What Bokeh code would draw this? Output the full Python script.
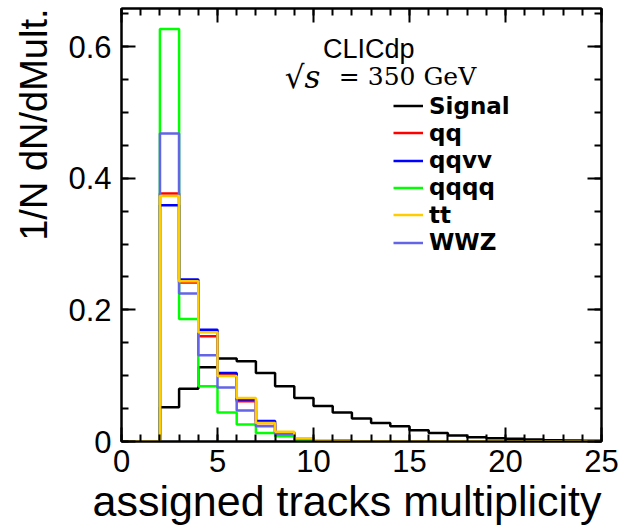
from bokeh.plotting import figure
from bokeh.models import (Range1d, SingleIntervalTicker, LinearAxis, Label, Legend,
                          LegendItem, CustomJSTickFormatter, Title)
from bokeh.embed import file_html
from bokeh.resources import INLINE

# ---- data (normalised histograms, 25 bins of width 1 from 0 to 25) ----
bin_edges = list(range(0, 26))
signal = [0, 0, 0.052, 0.080, 0.113, 0.126, 0.122, 0.104, 0.084, 0.066, 0.054, 0.044,
          0.035, 0.028, 0.023, 0.017, 0.013, 0.009, 0.0065, 0.005, 0.004, 0.003, 0.002,
          0.0015, 0.001]
qq = [0, 0, 0.377, 0.2415, 0.160, 0.1015, 0.061, 0.028, 0.014, 0.005, 0.002, 0.001,
      0, 0, 0, 0, 0, 0, 0, 0, 0, 0, 0, 0, 0]
qqvv = [0, 0, 0.359, 0.246, 0.170, 0.104, 0.064, 0.031, 0.013, 0.005, 0.002, 0.001,
        0, 0, 0, 0, 0, 0, 0, 0, 0, 0, 0, 0, 0]
qqqq = [0, 0, 0.627, 0.186, 0.084, 0.044, 0.026, 0.013, 0.008, 0.003, 0.001, 0,
        0, 0, 0, 0, 0, 0, 0, 0, 0, 0, 0, 0, 0]
tt = [0, 0, 0.373, 0.2435, 0.166, 0.0995, 0.066, 0.028, 0.015, 0.005, 0.002, 0.001,
      0, 0, 0, 0, 0, 0, 0, 0, 0, 0, 0, 0, 0]
wwz = [0, 0, 0.468, 0.225, 0.131, 0.082, 0.047, 0.023, 0.011, 0.005, 0.002, 0.001,
       0, 0, 0, 0, 0, 0, 0, 0, 0, 0, 0, 0, 0]

series_names = ["Signal", "qq", "qqvv", "qqqq", "tt", "WWZ"]
series_values = [signal, qq, qqvv, qqqq, tt, wwz]
series_colors = ["#000000", "#ff0000", "#0000ff", "#00ff00", "#ffcc00", "#6464e6"]
draw_order = [0, 1, 2, 3, 5, 4]

x_label = "assigned tracks multiplicity"
y_label = "1/N dN/dMult."

FONT = "Liberation Sans"

p = figure(width=623, height=528, output_backend="svg", toolbar_location=None,
           x_range=Range1d(0, 25), y_range=Range1d(0, 0.658),
           min_border_left=120, min_border_right=22, min_border_top=8,
           min_border_bottom=87, background_fill_color="white",
           border_fill_color="white")
p.grid.visible = False
p.outline_line_color = "black"
p.outline_line_width = 2

xt = SingleIntervalTicker(interval=5, num_minor_ticks=5)
yt = SingleIntervalTicker(interval=0.2, num_minor_ticks=4)
p.xaxis.ticker = xt
p.yaxis.ticker = yt
for ax in (p.xaxis[0], p.yaxis[0]):
    ax.axis_line_width = 2
    ax.major_tick_in = 14
    ax.major_tick_out = 0
    ax.minor_tick_in = 7
    ax.minor_tick_out = 0
    ax.major_tick_line_width = 2
    ax.minor_tick_line_width = 2
    ax.major_label_text_font = FONT
    ax.major_label_text_font_size = "31px"
    ax.major_label_text_color = "black"
p.xaxis.major_label_standoff = 8
p.yaxis.major_label_standoff = 10

blank = CustomJSTickFormatter(code="return ''")
for side in ("above", "right"):
    ax = LinearAxis(ticker=SingleIntervalTicker(interval=5 if side == "above" else 0.2,
                                                num_minor_ticks=5 if side == "above" else 4),
                    formatter=blank, axis_line_width=2, major_tick_in=14, major_tick_out=0,
                    minor_tick_in=7, minor_tick_out=0, major_tick_line_width=2,
                    minor_tick_line_width=2, major_label_standoff=0,
                    major_label_text_font_size="6px")
    p.add_layout(ax, side)

# axis titles, aligned to the axis ends as in the reference
p.add_layout(Title(text=x_label, align="right", text_font=FONT, text_font_size="43px",
                   text_font_style="normal", text_color="black", standoff=0), "below")
p.add_layout(Title(text=y_label, align="right", text_font=FONT, text_font_size="38px",
                   text_font_style="normal", text_color="black", standoff=21,
                   text_line_height=0.75), "left")

renderers = {}
for i in draw_order:
    vals = series_values[i]
    r = p.step(x=bin_edges, y=vals + [vals[-1]], mode="after",
               line_color=series_colors[i], line_width=2.5)
    renderers[i] = r

# one single-entry legend per series, so the rows sit as close as in the reference
row_step = 27.3
for k in range(len(series_names)):
    lg = Legend(items=[LegendItem(label=series_names[k], renderers=[renderers[k]])],
                location=(272, 322 - row_step * k), label_text_font="DejaVu Sans",
                label_text_font_size="23px", label_text_font_style="bold",
                label_text_color="black", glyph_width=30, glyph_height=27,
                label_height=27, spacing=0, padding=0, margin=0, label_standoff=6,
                background_fill_alpha=0, border_line_alpha=0)
    p.add_layout(lg)

p.add_layout(Label(x=10.49, y=0.5969, text="CLICdp", text_align="left",
                   text_baseline="alphabetic", text_font=FONT,
                   text_font_size="27px", text_color="black"))
p.add_layout(Label(x=8.5, y=0.554, text="\u221as", text_align="left",
                   text_baseline="alphabetic", text_font="DejaVu Serif",
                   text_font_style="italic", text_font_size="31px", text_color="black"))
p.add_layout(Label(x=11.32, y=0.554, text="= 350 GeV", text_align="left",
                   text_baseline="alphabetic", text_font="DejaVu Serif",
                   text_font_size="25px", text_color="black"))

open("out.html", "w").write(file_html(p, INLINE))
